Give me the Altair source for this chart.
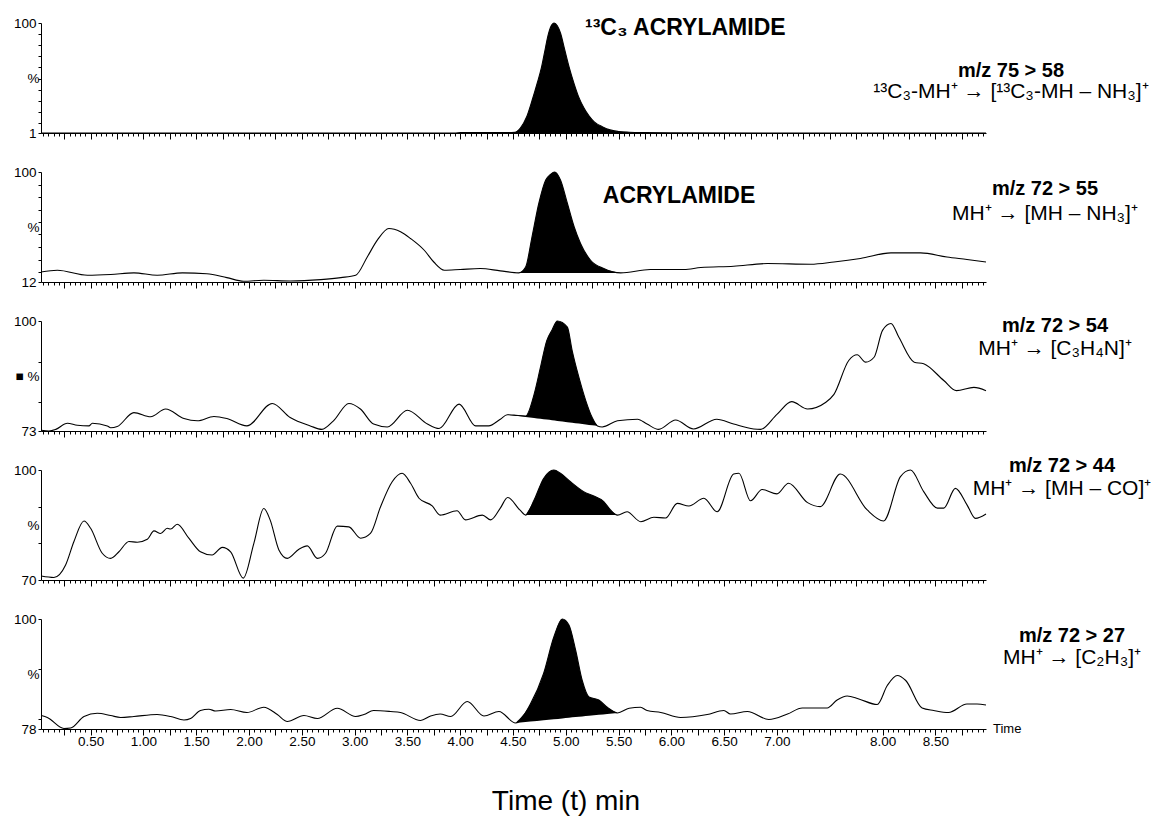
import altair as alt
import pandas as pd
import numpy as np

FONT = "Liberation Sans"

# ---------------- data (time in min, relative intensity in %) ----------------
# Panel 1: 13C3 acrylamide, m/z 75 > 58
p1_t = [0.03, 3.95, 4.0, 4.45, 4.52, 4.57, 4.63, 4.68, 4.73, 4.77, 4.80, 4.83, 4.86, 4.89,
        4.92, 4.95, 4.99, 5.03, 5.08, 5.12, 5.17, 5.22, 5.27, 5.35, 5.42, 5.50, 5.60, 5.75,
        6.0, 8.98]
p1_v = [1.0, 1.0, 1.4, 1.4, 1.6, 5.5, 15.6, 30, 46, 60, 74, 88, 97, 100,
        97.5, 91, 76, 61, 45, 34, 24, 16.5, 11, 6.5, 3.8, 2.4, 1.7, 1.3,
        1.1, 1.0]

# Panel 2: acrylamide, m/z 72 > 55
p2_t = [0.03, 0.185, 0.47, 0.69, 0.91, 1.13, 1.37, 1.6, 1.79, 1.95, 2.14, 2.39, 2.68, 2.87,
        3.01, 3.12, 3.215, 3.325, 3.435, 3.53, 3.66, 3.75, 3.85, 4.0, 4.19, 4.38, 4.555,
        4.62, 4.68, 4.745, 4.81, 4.855, 4.894, 4.95, 5.015, 5.08, 5.14, 5.235, 5.36, 5.52,
        5.80, 6.12, 6.28, 6.59, 6.91, 7.32, 7.54, 7.79, 8.08, 8.36, 8.61, 8.80, 8.98]
p2_v = [20, 21.4, 17.4, 18, 19.3, 17.4, 19.3, 18.6, 15.5, 12.6, 13.4, 12.8, 13.9, 15.5,
        17.4, 32, 45.5, 54.8, 52.2, 46.8, 37.4, 28, 21.4, 22, 22.8, 20.9, 19.3,
        24, 48, 75, 93.6, 98, 100, 93.6, 75, 56, 42.8, 29.4, 22.8, 19.3,
        22, 22, 23.6, 24.6, 26.8, 26.2, 28, 30.8, 35.3, 35.3, 32, 30, 28]

# Panel 3: m/z 72 > 54
p3_t = [0.033, 0.105, 0.17, 0.28, 0.374, 0.484, 0.516, 0.658, 0.69, 0.752, 0.91, 1.068,
        1.21, 1.384, 1.51, 1.668, 1.79, 1.98, 2.22, 2.39, 2.58, 2.69, 2.80, 2.946, 3.055,
        3.18, 3.31, 3.50, 3.69, 3.80, 3.99, 4.146, 4.27, 4.38, 4.446, 4.51, 4.62, 4.70,
        4.76, 4.82, 4.87, 4.92, 5.015, 5.06, 5.124, 5.19, 5.25, 5.30, 5.345, 5.49, 5.68,
        5.77, 5.88, 6.04, 6.21, 6.43, 6.59, 6.78, 6.845, 7.00, 7.14, 7.29, 7.46, 7.54,
        7.68, 7.76, 7.84, 7.92, 8.0, 8.08, 8.155, 8.30, 8.39, 8.58, 8.70, 8.865, 8.98]
p3_v = [73.2, 73.0, 73.4, 74.9, 74.4, 74.25, 74.9, 74.25, 73.8, 74.1, 77.5, 76.5,
        78.4, 76.05, 75.5, 76.55, 76.05, 74.25, 79.75, 76.3, 74.25, 73.4, 75.5, 79.75, 78.4,
        74.7, 74.0, 78.1, 74.7, 73.6, 79.6, 74.25, 74.25, 75.9, 77.0, 76.9, 76.7, 82,
        88.6, 95.2, 97.8, 100, 98.5, 92.8, 86.2, 80.4, 76.3, 74.25, 74.0, 75.5, 75.9,
        74.7, 73.4, 75.7, 73.5, 75.9, 74.7, 73.5, 73.4, 77.1, 80.2, 78.4, 80, 82,
        90.3, 91.7, 89.9, 91.1, 97.7, 99.4, 96, 89.9, 89.5, 85.4, 82.9, 83.7, 82.9]

# Panel 4: m/z 72 > 44
p4_t = [0.033, 0.152, 0.263, 0.342, 0.437, 0.5, 0.61, 0.69, 0.768, 0.863, 0.942, 1.037,
        1.10, 1.163, 1.226, 1.258, 1.32, 1.43, 1.54, 1.65, 1.747, 1.826, 1.946, 2.046,
        2.14, 2.20, 2.283, 2.363, 2.473, 2.552, 2.647, 2.725, 2.836, 2.946, 3.057, 3.15,
        3.246, 3.356, 3.45, 3.53, 3.61, 3.735, 3.81, 3.97, 4.05, 4.21, 4.29, 4.38, 4.45,
        4.565, 4.62, 4.70, 4.79, 4.887, 4.95, 5.045, 5.17, 5.266, 5.36, 5.424, 5.49,
        5.58, 5.71, 5.834, 5.945, 6.056, 6.166, 6.308, 6.434, 6.59, 6.64, 6.75, 6.86,
        7.0, 7.11, 7.29, 7.41, 7.60, 7.855, 8.01, 8.17, 8.265, 8.39, 8.52, 8.58, 8.69,
        8.80, 8.88, 8.98]
p4_v = [71.1, 70.7, 74.1, 80.5, 86.1, 84.1, 77.3, 75.9, 77.7, 80.5, 80.3, 81.1,
        83.4, 82.7, 84.1, 83.9, 85.2, 81.4, 77.7, 76.8, 78.9, 77.7, 70.5, 80,
        89.5, 86.4, 78.2, 75.9, 78.4, 79.3, 75.9, 77.3, 84.7, 84.5, 81.4, 82.7,
        90, 96.8, 99.1, 96.4, 92.3, 90.2, 87.7, 88.9, 86.4, 87.7, 86.4, 89.6, 92.5,
        89.1, 87.7, 91.8, 97.7, 100, 99.1, 96.8, 94.1, 92.9, 91.4, 89.1, 87.7,
        88.6, 85.9, 87.1, 86.9, 90.9, 90.2, 92.3, 88.6, 98.9, 99.1, 91.6, 94.7,
        93.5, 96.4, 91.1, 90, 98.9, 89.1, 86.1, 98.2, 100, 94.1, 89.6, 89.6, 95,
        90.5, 86.8, 88]

# Panel 5: m/z 72 > 27
p5_t = [0.033, 0.09, 0.247, 0.31, 0.437, 0.563, 0.69, 0.784, 0.91, 1.13, 1.258, 1.384,
        1.447, 1.54, 1.62, 1.684, 1.826, 1.98, 2.14, 2.268, 2.363, 2.52, 2.647, 2.836,
        3.01, 3.088, 3.18, 3.34, 3.435, 3.625, 3.72, 3.81, 3.91, 4.067, 4.225, 4.367,
        4.525, 4.665, 4.79, 4.887, 4.967, 5.03, 5.093, 5.156, 5.22, 5.313, 5.393, 5.49,
        5.60, 5.708, 5.77, 5.9, 6.087, 6.34, 6.497, 6.56, 6.72, 6.923, 7.1, 7.24, 7.476,
        7.57, 7.665, 7.776, 7.95, 8.045, 8.14, 8.22, 8.375, 8.485, 8.625, 8.80, 8.895, 8.98]
p5_v = [80.7, 80.3, 78.1, 78.2, 80.5, 81.15, 80.7, 80.3, 80.5, 80.9, 80.5, 79.8,
        80.1, 81.7, 81.95, 81.6, 81.9, 81.3, 82.35, 80.9, 79.5, 80.7, 80.1, 82.15,
        80.5, 80.9, 81.7, 81.5, 81.3, 79.7, 80.6, 81.0, 80.5, 83.5, 80.6, 81.5,
        79.2, 83, 89.1, 96.4, 100, 98.8, 93.8, 87.7, 84.4, 83.8, 82.35, 81.2,
        82.15, 82.35, 81.7, 81.3, 80.3, 80.9, 81.7, 81.0, 81.5, 79.9, 81.0, 82.2, 82.2,
        83.8, 84.6, 84.0, 82.9, 86.7, 88.7, 87.7, 82.2, 81.7, 81.3, 83, 83, 82.8]

# axis minimum (%) of each trace
bases = [1, 12, 73, 70, 78]
# integrated peak: start / end time and baseline level at both ends
peak_start = [4.52, 4.555, 4.446, 4.62, 4.525]
peak_end = [5.75, 5.52, 5.30, 5.49, 5.49]
peak_b0 = [1, 19.3, 77.0, 87.7, 79.2]
peak_b1 = [1, 19.3, 74.25, 87.7, 81.2]

pct_labels = ["%", "%", "\u25a0  %", "%", "%"]
compound_labels = ["\u00b9\u00b3C\u2083 ACRYLAMIDE", "ACRYLAMIDE", None, None, None]
mz_labels = ["m/z 75 > 58", "m/z 72 > 55", "m/z 72 > 54", "m/z 72 > 44", "m/z 72 > 27"]
ion_labels = [
    "\u00b9\u00b3C\u2083-MH\u207a \u2192 [\u00b9\u00b3C\u2083-MH \u2013 NH\u2083]\u207a",
    "MH\u207a \u2192 [MH \u2013 NH\u2083]\u207a",
    "MH\u207a \u2192 [C\u2083H\u2084N]\u207a",
    "MH\u207a \u2192 [MH \u2013 CO]\u207a",
    "MH\u207a \u2192 [C\u2082H\u2083]\u207a",
]
x_label_values = [0.5, 1.0, 1.5, 2.0, 2.5, 3.0, 3.5, 4.0, 4.5, 5.0, 5.5, 6.0, 6.5, 7.0, 8.0, 8.5]

traces = [(p1_t, p1_v), (p2_t, p2_v), (p3_t, p3_v), (p4_t, p4_v), (p5_t, p5_v)]

# ---------------- layout / style ----------------
W, H = 945, 110
X_DOMAIN = [0.03, 8.98]
one = pd.DataFrame({"k": [0]})

# per-panel text positions (pixels inside each panel)
compound_pos = [(544, 12, "left"), (638, 31, "center"), None, None, None]
mz_x = [970, 1004, 1014, 1021, 1031]
mz_y = [54, 23, 11, 2, 23]
ion_y = [75, 48, 34, 25, 45]


def text(s, x, y, size, bold=False, align="center"):
    return alt.Chart(one).mark_text(
        text=s, font=FONT, fontSize=size, fontWeight="bold" if bold else "normal",
        align=align, baseline="alphabetic", color="black"
    ).encode(x=alt.value(x), y=alt.value(y))


xticks = [round(v, 2) for v in np.arange(0.05, 8.951, 0.05)]
major_test = "abs(datum.value*4 - round(datum.value*4)) < 0.001"
label_test = " || ".join(f"abs(datum.value-{v})<0.001" for v in x_label_values)

panels = []
for i, (t, v) in enumerate(traces):
    base = bases[i]
    mid = (base + 100) / 2
    df = pd.DataFrame({"t": t, "v": v})
    m = (df.t >= peak_start[i] - 1e-9) & (df.t <= peak_end[i] + 1e-9)
    pk = df[m].copy()
    pk["b"] = np.interp(pk.t, [peak_start[i], peak_end[i]], [peak_b0[i], peak_b1[i]])

    bottom = i == 4
    xaxis = alt.Axis(
        values=xticks, title=None, grid=False,
        tickSize={"condition": {"test": major_test, "value": 6}, "value": 3},
        labels=bottom,
        labelExpr=f"({label_test}) ? format(datum.value, '.2f') : ''",
        labelOverlap=False, labelFlush=False, labelPadding=-1,
        labelFontSize=13.5, labelColor="black",
    )
    yvals = sorted(set([base] + list(range(int(np.ceil(base / 10)) * 10, 101, 10)) + [mid]))
    yaxis = alt.Axis(
        values=yvals, title=None, grid=False, labelOverlap=False,
        labelExpr=(f"abs(datum.value-100)<0.01 ? '100' : abs(datum.value-{base})<0.01 ? '{base}' : "
                   f"abs(datum.value-{mid})<0.01 ? '{pct_labels[i]}' : ''"),
        tickSize={"condition": {"test": f"abs(datum.value-{mid})<0.01 && abs(datum.value/10 - round(datum.value/10))>0.01",
                                "value": 0}, "value": 3},
        labelPadding=2, labelFontSize=13.5, labelColor="black",
    )
    xs = alt.Scale(domain=X_DOMAIN, nice=False, zero=False)
    ys = alt.Scale(domain=[base, 100], nice=False, zero=False)

    area = alt.Chart(pk).mark_area(color="black", interpolate="monotone", opacity=1).encode(
        x=alt.X("t:Q", scale=xs, axis=xaxis), y=alt.Y("v:Q", scale=ys, axis=yaxis), y2="b:Q")
    line = alt.Chart(df).mark_line(color="black", strokeWidth=1.1, interpolate="monotone").encode(
        x=alt.X("t:Q", scale=xs, axis=xaxis), y=alt.Y("v:Q", scale=ys, axis=yaxis))
    layers = [area, line]
    if compound_labels[i]:
        cx, cy, al = compound_pos[i]
        layers.append(text(compound_labels[i], cx, cy, 23, bold=True, align=al))
    layers.append(text(mz_labels[i], mz_x[i], mz_y[i], 20, bold=True))
    layers.append(text(ion_labels[i], mz_x[i], ion_y[i], 21))
    if bottom:
        layers.append(text("Time", 952, 114, 13, align="left"))
        layers.append(text("Time (t) min", 525, 191, 28))
    panels.append(alt.layer(*layers).properties(width=W, height=H))

chart = alt.vconcat(*panels, spacing=39, bounds="flush").properties(
    padding={"left": 11, "top": 16, "right": 0, "bottom": 0}
).configure_view(stroke=None).configure_axis(
    domainColor="black", tickColor="black", labelColor="black", labelFont=FONT,
    domainWidth=1, tickWidth=1,
)

chart.save("out.html", embed_options={"renderer": "svg", "actions": False})
